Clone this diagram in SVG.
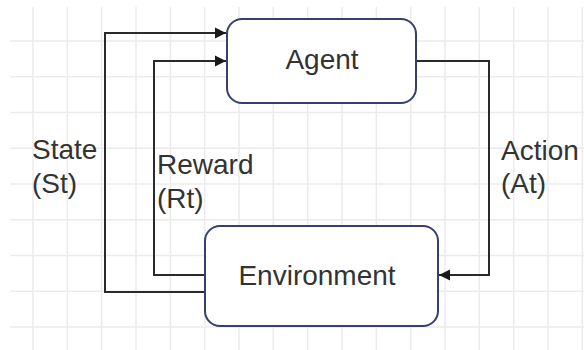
<svg xmlns="http://www.w3.org/2000/svg" width="584" height="350" viewBox="0 0 584 350">
  <defs>
    <marker id="arrow" markerUnits="userSpaceOnUse" markerWidth="12" markerHeight="12" viewBox="0 0 12 12" refX="11" refY="6" orient="auto">
      <path d="M0,0.5 L11,6 L0,11.5 Z" fill="#1a1a1a"/>
    </marker>
  </defs>
  <style>
    .grid line { stroke: #ebebeb; stroke-width: 1.5; }
    .box { fill: #ffffff; stroke: #34406e; stroke-width: 2; }
    .edge { fill: none; stroke: #2a2a2a; stroke-width: 2; }
    text { font-family: "Liberation Sans", Arial, sans-serif; font-size: 28px; fill: #333333; }
  </style>
  <rect width="584" height="350" fill="#ffffff"/>
  <!-- background grid -->
  <g class="grid">
    <line x1="33" y1="7" x2="33" y2="350"/>
    <line x1="67.3" y1="7" x2="67.3" y2="350"/>
    <line x1="101.7" y1="7" x2="101.7" y2="350"/>
    <line x1="136" y1="7" x2="136" y2="350"/>
    <line x1="170.3" y1="7" x2="170.3" y2="350"/>
    <line x1="204.7" y1="7" x2="204.7" y2="350"/>
    <line x1="239" y1="7" x2="239" y2="350"/>
    <line x1="273.3" y1="7" x2="273.3" y2="350"/>
    <line x1="307.7" y1="7" x2="307.7" y2="350"/>
    <line x1="342" y1="7" x2="342" y2="350"/>
    <line x1="376.3" y1="7" x2="376.3" y2="350"/>
    <line x1="410.7" y1="7" x2="410.7" y2="350"/>
    <line x1="445" y1="7" x2="445" y2="350"/>
    <line x1="479.3" y1="7" x2="479.3" y2="350"/>
    <line x1="513.7" y1="7" x2="513.7" y2="350"/>
    <line x1="548" y1="7" x2="548" y2="350"/>
    <line x1="582.3" y1="7" x2="582.3" y2="350"/>
    <line x1="10" y1="41" x2="584" y2="41"/>
    <line x1="10" y1="76.75" x2="584" y2="76.75"/>
    <line x1="10" y1="112.5" x2="584" y2="112.5"/>
    <line x1="10" y1="148.25" x2="584" y2="148.25"/>
    <line x1="10" y1="184" x2="584" y2="184"/>
    <line x1="10" y1="219.75" x2="584" y2="219.75"/>
    <line x1="10" y1="255.5" x2="584" y2="255.5"/>
    <line x1="10" y1="291.25" x2="584" y2="291.25"/>
    <line x1="10" y1="327" x2="584" y2="327"/>
  </g>
  <!-- connectors -->
  <g id="connectors">
    <path id="state-edge" class="edge" d="M205,292 H105 V33 H226" marker-end="url(#arrow)"/>
    <path id="reward-edge" class="edge" d="M205,275 H154 V61 H226" marker-end="url(#arrow)"/>
    <path id="action-edge" class="edge" d="M416,61 H489 V275 H439" marker-end="url(#arrow)"/>
    <text x="32" y="159">State</text>
    <text x="32" y="193">(St)</text>
    <text x="157" y="174">Reward</text>
    <text x="157" y="208">(Rt)</text>
    <text x="501" y="160">Action</text>
    <text x="501" y="193">(At)</text>
  </g>
  <!-- nodes -->
  <g id="agent">
    <rect class="box" x="227" y="19" width="189" height="84" rx="15" ry="15"/>
    <text x="322" y="69" text-anchor="middle">Agent</text>
  </g>
  <g id="environment">
    <rect class="box" x="205" y="226" width="233" height="100" rx="15" ry="15"/>
    <text x="317" y="285" text-anchor="middle">Environment</text>
  </g>
</svg>
